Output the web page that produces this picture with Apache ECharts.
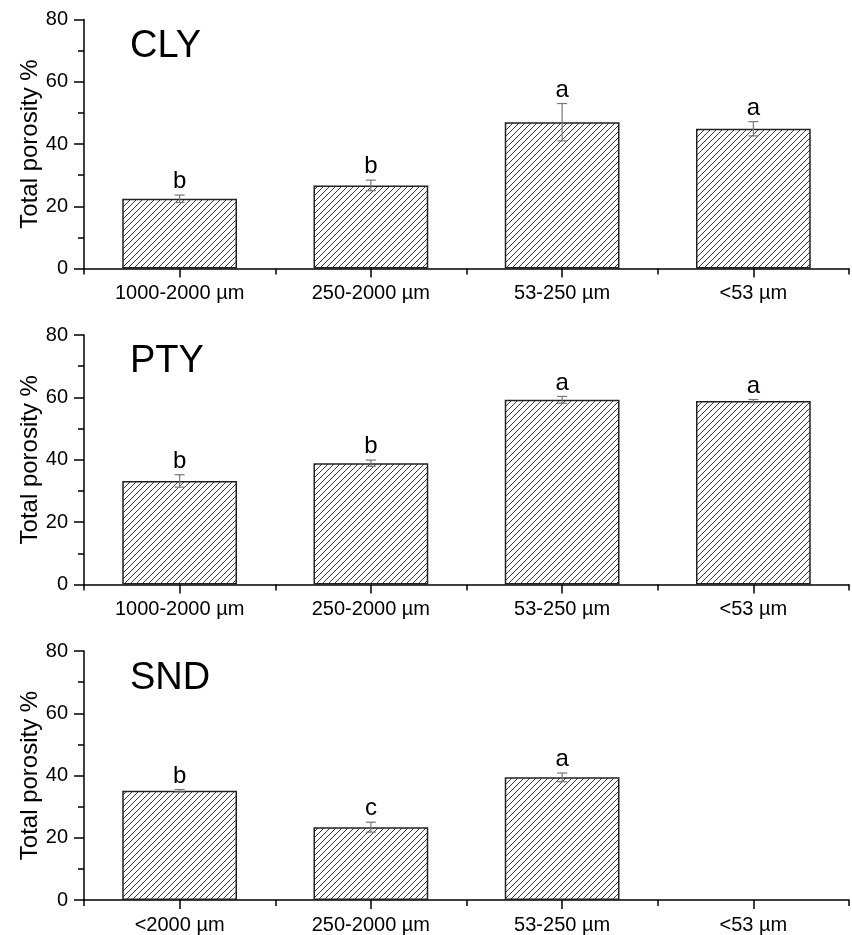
<!DOCTYPE html>
<html>
<head>
<meta charset="utf-8">
<script src="https://cdn.jsdelivr.net/npm/echarts@6/dist/echarts.min.js"></script>
<style>html,body{margin:0;padding:0;background:#fff;}#c{width:852px;height:935px;}</style>
</head>
<body>
<div id="c"></div>
<script>
const categoriesA = ['1000-2000 µm', '250-2000 µm', '53-250 µm', '<53 µm'];
const categoriesSND = ['<2000 µm', '250-2000 µm', '53-250 µm', '<53 µm'];
const panelNames = ['CLY', 'PTY', 'SND'];
const yTicks = [0, 20, 40, 60, 80];

const clyValues = [22.4, 26.7, 47.0, 44.9];
const clyErrors = [1.2, 1.7, 6.0, 2.3];
const clyLetters = ['b', 'b', 'a', 'a'];

const ptyValues = [33.2, 38.9, 59.2, 58.8];
const ptyErrors = [2.0, 1.0, 1.1, 0.5];
const ptyLetters = ['b', 'b', 'a', 'a'];

const sndValues = [35.1, 23.4, 39.4, null];
const sndErrors = [0.4, 1.6, 1.4, null];
const sndLetters = ['b', 'c', 'a', ''];

// hatch pattern
const tile = document.createElement('canvas');
tile.width = 6; tile.height = 6;
const tc = tile.getContext('2d');
tc.fillStyle = '#fff'; tc.fillRect(0, 0, 6, 6);
tc.strokeStyle = '#3a3a3a'; tc.lineWidth = 1;
tc.beginPath();
tc.moveTo(-1, 7); tc.lineTo(7, -1);
tc.moveTo(-4, 4); tc.lineTo(4, -4);
tc.moveTo(2, 10); tc.lineTo(10, 2);
tc.stroke();
const hatch = { image: tile, repeat: 'repeat' };

const FONT = '"Liberation Sans", Arial, sans-serif';
const panels = [
  { cats: categoriesA, vals: clyValues, errs: clyErrors, letters: clyLetters, top: 19.5, height: 249 },
  { cats: categoriesA, vals: ptyValues, errs: ptyErrors, letters: ptyLetters, top: 335, height: 249.5 },
  { cats: categoriesSND, vals: sndValues, errs: sndErrors, letters: sndLetters, top: 651, height: 250 }
];

const grid = [], xAxis = [], yAxis = [], series = [], title = [];
panels.forEach((p, k) => {
  grid.push({ left: 84, right: 3, top: p.top, height: p.height, containLabel: false });
  xAxis.push({
    type: 'category', gridIndex: k, data: p.cats, position: 'bottom',
    axisLine: { show: true, onZero: false, lineStyle: { color: '#000', width: 1.5 } },
    axisTick: { show: true, alignWithLabel: true, length: 9, lineStyle: { color: '#000', width: 1.5 } },
    axisLabel: { show: true, margin: 15, color: '#000', fontSize: 20, fontFamily: FONT },
    splitLine: { show: false }
  });
  xAxis.push({
    type: 'category', gridIndex: k, data: p.cats, position: 'bottom',
    axisLine: { show: false, onZero: false },
    axisTick: { show: true, alignWithLabel: false, length: 6, lineStyle: { color: '#000', width: 1.5 } },
    axisLabel: { show: false },
    splitLine: { show: false }
  });
  yAxis.push({
    type: 'value', gridIndex: k, min: yTicks[0], max: yTicks[yTicks.length - 1], interval: 20,
    name: 'Total porosity %', nameLocation: 'middle', nameGap: 42, nameMoveOverlap: false,
    nameTextStyle: { fontSize: 24, color: '#000', fontFamily: FONT },
    axisLine: { show: true, lineStyle: { color: '#000', width: 1.5 } },
    axisTick: { show: true, length: 10, lineStyle: { color: '#000', width: 1.5 } },
    minorTick: { show: true, splitNumber: 2, length: 6, lineStyle: { color: '#000', width: 1.5 } },
    axisLabel: { margin: 16, color: '#000', fontSize: 20, fontFamily: FONT },
    splitLine: { show: false }
  });
  series.push({
    type: 'bar', xAxisIndex: 2 * k, yAxisIndex: k, data: p.vals,
    barWidth: '60%',
    itemStyle: { color: hatch, borderColor: '#222', borderWidth: 1.5 },
    silent: true, animation: false
  });
  series.push({
    type: 'custom', xAxisIndex: 2 * k, yAxisIndex: k, z: 5, animation: false, silent: true,
    data: p.vals.map((v, i) => [i, v, p.errs[i]]),
    renderItem: function (params, api) {
      const i = params.dataIndex;
      const v = p.vals[i], e = p.errs[i];
      if (v == null) return null;
      const x = api.coord([i, v])[0];
      const yTop = api.coord([i, v + e])[1];
      const yBot = api.coord([i, v - e])[1];
      const st = { stroke: '#777', lineWidth: 1.2 };
      return {
        type: 'group',
        children: [
          { type: 'line', shape: { x1: x, y1: yTop, x2: x, y2: yBot }, style: st },
          { type: 'line', shape: { x1: x - 5, y1: yTop, x2: x + 5, y2: yTop }, style: st },
          { type: 'line', shape: { x1: x - 5, y1: yBot, x2: x + 5, y2: yBot }, style: st },
          { type: 'text', x: x, y: yTop - 1.5,
            style: { text: p.letters[i], fill: '#000', font: '24px ' + FONT, textAlign: 'center', textVerticalAlign: 'bottom' } }
        ]
      };
    }
  });
  title.push({
    text: panelNames[k], left: 125, top: [23, 338, 655][k],
    textStyle: { fontSize: 38, fontWeight: 'normal', color: '#000', fontFamily: FONT }
  });
});

const chart = echarts.init(document.getElementById('c'), null, { renderer: 'canvas' });
chart.setOption({ animation: false, backgroundColor: '#fff', title, grid, xAxis, yAxis, series });
</script>
</body>
</html>
